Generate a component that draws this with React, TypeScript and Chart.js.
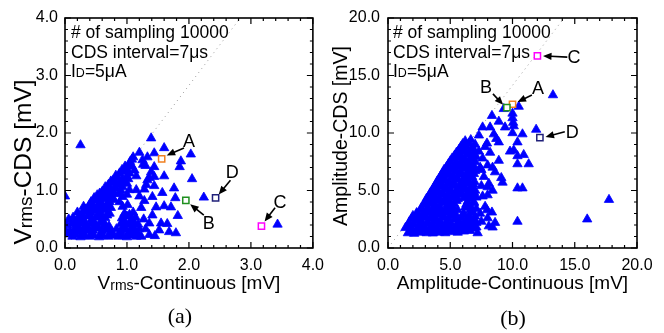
import { useEffect, useRef } from 'react';
import { Chart, registerables } from 'chart.js';

Chart.register(...registerables);

const SANS = '"Liberation Sans", Arial, Helvetica, sans-serif';

type Pt = [number, number];

// ---------- panel (a) data ----------
const leftDense: Pt[] = [
  [0.12, 0.2], [0.18, 0.23], [0.25, 0.19], [0.32, 0.21], [0.4, 0.2], [0.47, 0.22], [0.55, 0.19], [0.62, 0.21], [0.7, 0.2], [0.78, 0.22], [0.86, 0.2], [0.93, 0.21], [1.0, 0.19], [1.08, 0.22], [1.15, 0.2],
  [0.0, 0.32], [0.05, 0.24], [0.08, 0.3], [0.15, 0.32], [0.22, 0.29], [0.3, 0.33], [0.37, 0.3], [0.45, 0.31], [0.52, 0.34], [0.6, 0.3], [0.68, 0.32], [0.75, 0.29], [0.83, 0.33], [0.9, 0.3], [0.98, 0.32], [1.05, 0.29], [1.13, 0.31], [1.2, 0.33],
  [0.1, 0.42], [0.18, 0.4], [0.26, 0.43], [0.33, 0.39], [0.41, 0.42], [0.49, 0.4], [0.57, 0.44], [0.64, 0.41], [0.71, 0.38], [0.9, 0.42], [0.97, 0.44], [1.04, 0.4], [1.11, 0.43], [1.18, 0.41],
  [0.06, 0.5], [0.13, 0.53], [0.2, 0.5], [0.28, 0.52], [0.36, 0.55], [0.43, 0.5], [0.5, 0.53], [0.58, 0.56], [0.65, 0.52], [0.92, 0.52], [1.0, 0.55], [1.07, 0.5], [1.14, 0.53],
  [0.2, 0.62], [0.27, 0.6], [0.35, 0.64], [0.42, 0.61], [0.5, 0.65], [0.57, 0.62], [0.64, 0.66], [0.72, 0.6], [0.96, 0.6], [1.1, 0.62],
  [0.3, 0.72], [0.38, 0.7], [0.45, 0.74], [0.52, 0.71], [0.6, 0.75], [0.67, 0.72], [0.74, 0.7], [0.93, 0.72], [1.01, 0.75],
  [0.42, 0.8], [0.5, 0.83], [0.57, 0.81], [0.65, 0.85], [0.72, 0.8], [0.79, 0.84], [0.88, 0.8],
  [0.52, 0.92], [0.59, 0.9], [0.66, 0.94], [0.73, 0.91], [0.8, 0.95], [0.93, 0.89], [1.0, 0.93],
  [0.6, 0.98], [0.67, 1.02], [0.74, 1.0], [0.82, 1.04], [0.9, 1.0], [1.04, 1.01], [1.15, 1.01],
  [0.7, 1.1], [0.77, 1.13], [0.84, 1.1], [0.93, 1.06], [1.0, 1.12],
  [0.78, 1.18], [0.85, 1.22], [0.92, 1.2], [1.0, 1.25], [1.15, 1.25],
  [0.88, 1.3], [0.95, 1.33], [0.99, 1.37], [1.04, 1.3], [1.12, 1.35],
  [0.97, 1.42], [1.04, 1.45], [1.05, 1.5], [1.08, 1.54], [1.1, 1.58],
  [0.03, 0.4], [0.14, 0.26], [0.29, 0.25], [0.43, 0.26], [0.58, 0.25], [0.73, 0.25], [0.88, 0.25], [1.02, 0.25], [1.17, 0.26],
  [0.22, 0.36], [0.37, 0.36], [0.53, 0.37], [0.67, 0.36], [0.94, 0.36], [1.09, 0.36],
  [0.16, 0.46], [0.31, 0.47], [0.46, 0.46], [0.61, 0.47], [0.95, 0.47], [1.1, 0.47],
  [0.24, 0.56], [0.39, 0.57], [0.54, 0.58], [0.68, 0.57], [1.04, 0.58],
  [0.33, 0.67], [0.47, 0.68], [0.62, 0.69], [0.4, 0.76], [0.55, 0.77], [0.69, 0.78],
  [0.47, 0.87], [0.62, 0.86], [0.76, 0.88], [0.56, 0.95], [0.71, 0.96], [0.87, 0.94],
  [0.65, 1.06], [0.8, 1.05], [0.96, 1.15], [0.74, 1.16], [0.89, 1.14], [0.82, 1.26], [0.92, 1.36], [1.02, 1.2], [1.08, 1.42],
];
const leftSparse: Pt[] = [
  [0.25, 1.79], [0.0, 0.9], [1.39, 1.91], [1.6, 1.74], [1.44, 1.65], [1.2, 1.66], [1.33, 1.58], [2.03, 1.63], [1.87, 1.51], [1.85, 1.41],
  [1.26, 1.45], [1.44, 1.41], [1.39, 1.32], [1.44, 1.24], [1.33, 1.18], [1.31, 1.1], [1.6, 1.25], [2.05, 1.2], [1.57, 0.96], [1.76, 1.04],
  [1.44, 1.08], [1.41, 0.89], [1.78, 0.87], [2.24, 0.88], [1.23, 0.7], [1.47, 0.71], [1.6, 0.73], [1.71, 0.71], [1.82, 0.56], [1.41, 0.57],
  [1.36, 0.43], [1.55, 0.43], [1.65, 0.42], [1.52, 0.31], [1.68, 0.28], [1.79, 0.26], [1.36, 0.23], [1.23, 0.2], [1.45, 0.21], [1.3, 0.33],
  [1.27, 0.5], [1.25, 1.53], [1.3, 1.43], [1.36, 1.22], [1.28, 1.02], [1.2, 0.9], [1.28, 0.82], [3.43, 0.41],
];
const leftMarkers: Pt[] = [[1.56, 1.55], [1.95, 0.83], [3.17, 0.38], [2.43, 0.87]];
const leftLabelPos: Pt[] = [[2.0, 1.84], [2.32, 0.42], [3.47, 0.78], [2.7, 1.31]];
const leftArrowFrom: Pt[] = [[1.92, 1.74], [2.24, 0.57], [3.39, 0.7], [2.67, 1.18]];
const leftArrowTo: Pt[] = [[1.64, 1.61], [2.02, 0.76], [3.22, 0.46], [2.48, 0.93]];
const leftTickValues = [0, 1, 2, 3, 4];
const leftTickLabels = ['0.0', '1.0', '2.0', '3.0', '4.0'];

// ---------- panel (b) data ----------
const rightDense: Pt[] = [
  [1.6, 1.3], [2.1, 1.25], [2.6, 1.35], [3.1, 1.3], [3.6, 1.28], [4.1, 1.35], [4.6, 1.3], [5.1, 1.4], [5.6, 1.35], [6.1, 1.45], [6.6, 1.5],
  [1.8, 1.55], [2.3, 1.5], [2.8, 1.6], [3.3, 1.55], [3.8, 1.5], [4.3, 1.55], [4.8, 1.6], [5.3, 1.55], [5.8, 1.65], [6.3, 1.6], [6.8, 1.7],
  [1.4, 1.75], [1.9, 1.8], [2.4, 1.72], [2.9, 1.85], [3.4, 1.78], [3.9, 1.82], [4.4, 1.75], [4.9, 1.85], [5.4, 1.8], [5.9, 1.9], [6.4, 1.85], [6.9, 1.95],
  [1.6, 2.0], [2.1, 2.05], [2.6, 2.0], [3.1, 2.1], [3.6, 2.0], [4.1, 2.05], [4.6, 2.0], [5.1, 2.1], [5.6, 2.05], [6.1, 2.1], [6.6, 2.0],
  [1.7, 2.25], [2.2, 2.35], [2.7, 2.3], [3.2, 2.2], [3.7, 2.35], [4.2, 2.3], [4.7, 2.25], [5.7, 2.35], [6.2, 2.3], [6.7, 2.4], [7.1, 2.2],
  [1.9, 2.55], [2.4, 2.5], [2.9, 2.6], [3.4, 2.55], [3.9, 2.5], [4.4, 2.6], [4.9, 2.55], [5.4, 2.5], [5.9, 2.6], [6.4, 2.55], [6.9, 2.5],
  [2.0, 2.8], [2.5, 2.75], [3.0, 2.85], [3.5, 2.8], [4.0, 2.9], [4.5, 2.75], [5.0, 2.85], [5.5, 2.8], [6.0, 2.9], [6.5, 2.8], [7.0, 2.75],
  [2.3, 3.05], [2.8, 3.0], [3.3, 3.1], [3.8, 3.05], [4.3, 3.0], [4.8, 3.1], [5.3, 3.05], [6.1, 3.0], [6.8, 3.1],
  [2.6, 3.3], [3.1, 3.25], [3.6, 3.35], [4.1, 3.3], [4.6, 3.2], [5.1, 3.35], [5.6, 3.3], [6.6, 3.3], [7.1, 3.4],
  [2.7, 3.55], [3.2, 3.5], [3.7, 3.6], [4.2, 3.55], [4.7, 3.5], [5.2, 3.6], [6.2, 3.55], [6.7, 3.5],
  [2.9, 3.8], [3.3, 3.85], [3.8, 3.75], [4.3, 3.9], [4.8, 3.8], [5.3, 3.85], [6.3, 3.8], [6.9, 3.9],
  [3.0, 4.05], [3.5, 4.0], [4.0, 4.1], [4.5, 4.05], [5.0, 4.0], [5.5, 4.1], [6.4, 4.05], [6.9, 4.0],
  [3.1, 4.3], [3.6, 4.25], [4.1, 4.35], [4.6, 4.3], [5.1, 4.4], [5.6, 4.25], [6.1, 4.35], [6.6, 4.3], [7.1, 4.4],
  [3.3, 4.55], [3.8, 4.5], [4.3, 4.6], [4.8, 4.55], [5.3, 4.5], [5.8, 4.6], [6.3, 4.55], [6.8, 4.5],
  [3.4, 4.8], [3.9, 4.85], [4.4, 4.75], [4.9, 4.9], [5.4, 4.8], [5.9, 4.85], [6.4, 4.75], [6.9, 4.85],
  [3.55, 5.05], [4.05, 5.0], [4.55, 5.1], [5.05, 5.05], [5.55, 5.0], [6.05, 5.1], [6.55, 5.05], [7.0, 5.0],
  [3.7, 5.3], [4.2, 5.35], [4.7, 5.25], [5.2, 5.4], [5.7, 5.3], [6.2, 5.25], [6.7, 5.35],
  [3.85, 5.55], [4.35, 5.5], [4.85, 5.6], [5.35, 5.55], [5.85, 5.5], [6.35, 5.6], [6.85, 5.55],
  [3.95, 5.8], [4.45, 5.85], [4.95, 5.75], [5.45, 5.9], [5.95, 5.8], [6.45, 5.85], [6.95, 5.75],
  [4.1, 6.05], [4.6, 6.0], [5.1, 6.1], [5.6, 6.05], [6.1, 6.0], [6.6, 6.1],
  [4.25, 6.3], [4.75, 6.35], [5.25, 6.25], [5.75, 6.4], [6.25, 6.3], [6.75, 6.2],
  [4.4, 6.55], [4.9, 6.5], [5.4, 6.6], [5.9, 6.55], [6.4, 6.5], [6.9, 6.45],
  [4.5, 6.8], [5.0, 6.85], [5.5, 6.75], [6.0, 6.9], [6.5, 6.8], [7.0, 6.7],
  [4.7, 7.05], [5.2, 7.0], [5.7, 7.1], [6.2, 7.05], [6.7, 7.0],
  [4.85, 7.3], [5.35, 7.25], [5.85, 7.35], [6.35, 7.3], [6.85, 7.2],
  [5.0, 7.55], [5.5, 7.5], [6.0, 7.6], [6.5, 7.55], [7.0, 7.5],
  [5.15, 7.8], [5.65, 7.85], [6.15, 7.75], [6.65, 7.8], [7.1, 7.9],
  [5.35, 8.05], [5.85, 8.0], [6.35, 8.1], [6.85, 8.05],
  [5.5, 8.3], [6.0, 8.35], [6.5, 8.25], [6.95, 8.4],
  [5.7, 8.55], [6.2, 8.5], [6.7, 8.6],
  [5.85, 8.8], [6.3, 8.85], [6.8, 8.7],
  [6.0, 9.05], [6.5, 9.1], [6.2, 9.3], [6.65, 9.4],
];
const rightSparse: Pt[] = [
  [13.25, 13.3], [10.5, 12.3], [9.3, 12.1], [10.0, 11.7], [10.0, 11.3], [10.05, 10.9], [10.1, 10.6], [8.35, 11.5], [8.9, 11.0], [7.6, 10.5],
  [8.2, 10.5], [9.4, 10.5], [10.0, 10.0], [10.8, 9.9], [11.9, 10.3], [10.4, 9.2], [8.5, 9.9], [8.7, 9.5], [8.9, 9.2], [9.8, 8.4],
  [10.1, 8.5], [10.9, 8.1], [10.4, 8.0], [11.3, 7.3], [10.4, 7.3], [8.9, 7.6], [9.1, 6.1], [8.4, 5.0], [10.4, 5.2], [10.8, 5.2],
  [8.0, 4.6], [8.35, 3.1], [10.4, 2.3], [8.0, 2.6], [7.5, 2.3], [7.1, 1.8], [7.2, 1.3], [8.1, 1.9], [8.4, 1.8], [16.0, 2.5],
  [17.75, 4.2], [7.95, 9.1], [7.3, 9.8], [7.8, 8.8], [8.2, 8.3], [7.6, 7.8], [8.0, 7.2], [7.4, 7.0], [8.6, 6.6], [7.7, 6.2],
  [8.1, 5.6], [7.5, 5.4], [7.6, 4.5], [7.8, 3.6], [7.4, 3.0], [8.6, 2.2], [9.2, 5.7], [8.4, 7.0], [7.5, 6.8], [8.0, 5.3],
  [7.95, 3.3], [7.3, 8.4], [7.0, 9.0],
];
const rightMarkers: Pt[] = [[10.0, 12.5], [9.55, 12.2], [12.0, 16.7], [12.2, 9.6]];
const rightLabelPos: Pt[] = [[12.05, 13.8], [7.87, 13.9], [14.94, 16.5], [14.8, 10.0]];
const rightArrowFrom: Pt[] = [[11.56, 13.3], [8.43, 13.4], [14.4, 16.6], [14.2, 10.1]];
const rightArrowTo: Pt[] = [[10.4, 12.7], [9.25, 12.45], [12.45, 16.7], [12.65, 9.65]];
const rightTickValues = [0, 5, 10, 15, 20];
const rightTickLabels = ['0.0', '5.0', '10.0', '15.0', '20.0'];

const markerNames = ['A', 'B', 'C', 'D'];
const markerColors = ['#f08020', '#1f8f1f', '#ff00ff', '#20207a'];
const infoLines = ['# of sampling 10000', 'CDS interval=7μs'];

type Seg = [string, number, number];

interface PanelCfg {
  dense: Pt[];
  sparse: Pt[];
  markers: Pt[];
  labelPos: Pt[];
  arrowFrom: Pt[];
  arrowTo: Pt[];
  max: number;
  major: number;
  minor: number;
  tickValues: number[];
  tickLabels: string[];
  xTitle: Seg[];
  yTitle: Seg[];
  yTitleX: number;
  yTitleY: number;
  yAxisWidth: number;
  padRight: number;
  yTickPad: number;
  textLeft: number;
}

function drawSegs(ctx: CanvasRenderingContext2D, segs: Seg[], cx: number, cy: number, rotate: boolean) {
  let total = 0;
  for (const [t, size] of segs) {
    ctx.font = `${size}px ${SANS}`;
    total += ctx.measureText(t).width;
  }
  ctx.save();
  ctx.translate(cx, cy);
  if (rotate) ctx.rotate(-Math.PI / 2);
  ctx.textBaseline = 'alphabetic';
  ctx.textAlign = 'left';
  let x = -total / 2;
  for (const [t, size, dy] of segs) {
    ctx.font = `${size}px ${SANS}`;
    ctx.fillText(t, x, dy);
    x += ctx.measureText(t).width;
  }
  ctx.restore();
}

function drawArrow(ctx: CanvasRenderingContext2D, x1: number, y1: number, x2: number, y2: number) {
  const ang = Math.atan2(y2 - y1, x2 - x1);
  const head = 8.5;
  const hw = 3.6;
  const c = Math.cos(ang);
  const s = Math.sin(ang);
  const bx = x2 - head * c;
  const by = y2 - head * s;
  ctx.beginPath();
  ctx.moveTo(x1, y1);
  ctx.lineTo(bx + c, by + s);
  ctx.stroke();
  ctx.beginPath();
  ctx.moveTo(x2, y2);
  ctx.lineTo(bx + hw * s, by - hw * c);
  ctx.lineTo(bx - hw * s, by + hw * c);
  ctx.closePath();
  ctx.fill();
}

function makeDecor(cfg: PanelCfg) {
  return {
    id: 'decor',
    afterDatasetsDraw(chart: any) {
      const { ctx, chartArea: a, scales } = chart;
      const xs = scales.x;
      const ys = scales.y;
      ctx.save();
      // ticks (inward, all four sides)
      ctx.strokeStyle = '#000';
      ctx.lineWidth = 1.2;
      for (let v = 0; v <= cfg.max + 1e-9; v += cfg.minor) {
        const isMajor = Math.abs(v / cfg.major - Math.round(v / cfg.major)) < 1e-6;
        const len = isMajor ? 6 : 3;
        const px = xs.getPixelForValue(v);
        const py = ys.getPixelForValue(v);
        ctx.beginPath();
        ctx.moveTo(px, a.bottom); ctx.lineTo(px, a.bottom - len);
        ctx.moveTo(px, a.top); ctx.lineTo(px, a.top + len);
        ctx.moveTo(a.left, py); ctx.lineTo(a.left + len, py);
        ctx.moveTo(a.right, py); ctx.lineTo(a.right - len, py);
        ctx.stroke();
      }
      // frame
      ctx.lineWidth = 1.6;
      ctx.strokeRect(a.left, a.top, a.right - a.left, a.bottom - a.top);

      // arrows and letters
      ctx.fillStyle = '#000';
      ctx.lineWidth = 1.6;
      for (let i = 0; i < markerNames.length; i++) {
        drawArrow(
          ctx,
          xs.getPixelForValue(cfg.arrowFrom[i][0]), ys.getPixelForValue(cfg.arrowFrom[i][1]),
          xs.getPixelForValue(cfg.arrowTo[i][0]), ys.getPixelForValue(cfg.arrowTo[i][1]),
        );
        ctx.font = `18px ${SANS}`;
        ctx.textAlign = 'center';
        ctx.textBaseline = 'middle';
        ctx.fillText(markerNames[i], xs.getPixelForValue(cfg.labelPos[i][0]), ys.getPixelForValue(cfg.labelPos[i][1]));
      }

      // info text
      ctx.textAlign = 'left';
      ctx.textBaseline = 'alphabetic';
      ctx.font = `17.5px ${SANS}`;
      const tx = a.left + cfg.textLeft;
      ctx.fillText(infoLines[0], tx, a.top + 20);
      ctx.fillText(infoLines[1], tx, a.top + 39.5);
      ctx.fillText('I', tx, a.top + 59);
      let w = ctx.measureText('I').width;
      ctx.font = `12.5px ${SANS}`;
      ctx.fillText('D', tx + w, a.top + 59);
      w += ctx.measureText('D').width;
      ctx.font = `17.5px ${SANS}`;
      ctx.fillText('=5μA', tx + w, a.top + 59);

      // axis titles
      drawSegs(ctx, cfg.xTitle, (a.left + a.right) / 2, 289, false);
      drawSegs(ctx, cfg.yTitle, cfg.yTitleX, cfg.yTitleY, true);
      ctx.restore();
    },
  };
}

const leftCfg: PanelCfg = {
  dense: leftDense,
  sparse: leftSparse,
  markers: leftMarkers,
  labelPos: leftLabelPos,
  arrowFrom: leftArrowFrom,
  arrowTo: leftArrowTo,
  max: 4,
  major: 1,
  minor: 0.2,
  tickValues: leftTickValues,
  tickLabels: leftTickLabels,
  xTitle: [['V', 19, 0], ['rms', 14, 1], ['-Continuous [mV]', 19, 0]],
  yTitle: [['V', 24.5, 0], ['rms', 19, 1], ['-CDS [mV]', 24.5, 0]],
  yTitleX: 31,
  yTitleY: 162,
  yAxisWidth: 65,
  padRight: 17,
  yTickPad: 7,
  textLeft: 6,
};

const rightCfg: PanelCfg = {
  dense: rightDense,
  sparse: rightSparse,
  markers: rightMarkers,
  labelPos: rightLabelPos,
  arrowFrom: rightArrowFrom,
  arrowTo: rightArrowTo,
  max: 20,
  major: 5,
  minor: 1,
  tickValues: rightTickValues,
  tickLabels: rightTickLabels,
  xTitle: [['Amplitude-Continuous [mV]', 19, 0]],
  yTitle: [['Amplitude-CDS [mV]', 19.5, 0]],
  yTitleX: 15,
  yTitleY: 136,
  yAxisWidth: 56,
  padRight: 27,
  yTickPad: 8,
  textLeft: 5,
};

function Panel({ cfg, left }: { cfg: PanelCfg; left: number }) {
  const ref = useRef<HTMLCanvasElement>(null);
  useEffect(() => {
    const canvas = ref.current;
    if (!canvas) return;
    const tickCb = (v: any) => {
      const i = cfg.tickValues.indexOf(Number(v));
      return i >= 0 ? cfg.tickLabels[i] : '';
    };
    const chart = new Chart(canvas, {
      type: 'scatter',
      data: {
        datasets: [
          {
            data: cfg.markers.map(([x, y]) => ({ x, y })),
            pointStyle: 'rect',
            pointRadius: 4.4,
            borderWidth: 1.5,
            borderColor: markerColors,
            backgroundColor: '#ffffff',
            order: 0,
          } as any,
          {
            data: [...cfg.dense, ...cfg.sparse].map(([x, y]) => ({ x, y })),
            pointStyle: 'triangle',
            pointRadius: 5.4,
            borderWidth: 0.8,
            borderColor: '#0000ff',
            backgroundColor: '#0000ff',
            order: 1,
          } as any,
          {
            data: [{ x: 0, y: 0 }, { x: cfg.max, y: cfg.max * Math.SQRT2 }],
            showLine: true,
            pointRadius: 0,
            borderColor: '#9a9a9a',
            borderWidth: 1,
            borderDash: [1, 4],
            order: 2,
          } as any,
        ],
      },
      options: {
        animation: false,
        responsive: false,
        devicePixelRatio: 1,
        events: [],
        layout: { padding: { left: 0, top: 18, right: cfg.padRight, bottom: 0 } },
        plugins: { legend: { display: false }, tooltip: { enabled: false } },
        scales: {
          x: {
            type: 'linear',
            min: 0,
            max: cfg.max,
            afterFit: (s: any) => { s.height = 85; },
            grid: { display: false, drawTicks: false },
            border: { display: false },
            ticks: {
              stepSize: cfg.major,
              autoSkip: false,
              maxRotation: 0,
              padding: 8,
              color: '#000',
              font: { family: SANS, size: 16 },
              callback: tickCb,
            },
          },
          y: {
            type: 'linear',
            min: 0,
            max: cfg.max,
            afterFit: (s: any) => { s.width = cfg.yAxisWidth; },
            grid: { display: false, drawTicks: false },
            border: { display: false },
            ticks: {
              stepSize: cfg.major,
              autoSkip: false,
              padding: cfg.yTickPad,
              color: '#000',
              font: { family: SANS, size: 16 },
              callback: tickCb,
            },
          },
        },
      } as any,
      plugins: [makeDecor(cfg)],
    });
    return () => chart.destroy();
  }, [cfg]);
  return (
    <canvas
      ref={ref}
      width={332}
      height={333}
      style={{ position: 'absolute', left, top: 0, width: 332, height: 333 }}
    />
  );
}

const captionStyle = {
  position: 'absolute' as const,
  width: 60,
  textAlign: 'center' as const,
  font: '22px "Liberation Serif", "Times New Roman", serif',
  lineHeight: '24px',
  color: '#000',
};

export default function App() {
  return (
    <div style={{ position: 'fixed', left: 0, top: 0, width: 664, height: 333, background: '#fff', overflow: 'hidden' }}>
      <Panel cfg={leftCfg} left={0} />
      <Panel cfg={rightCfg} left={332} />
      <div style={{ ...captionStyle, left: 150, top: 304 }}>(a)</div>
      <div style={{ ...captionStyle, left: 483, top: 306 }}>(b)</div>
    </div>
  );
}
